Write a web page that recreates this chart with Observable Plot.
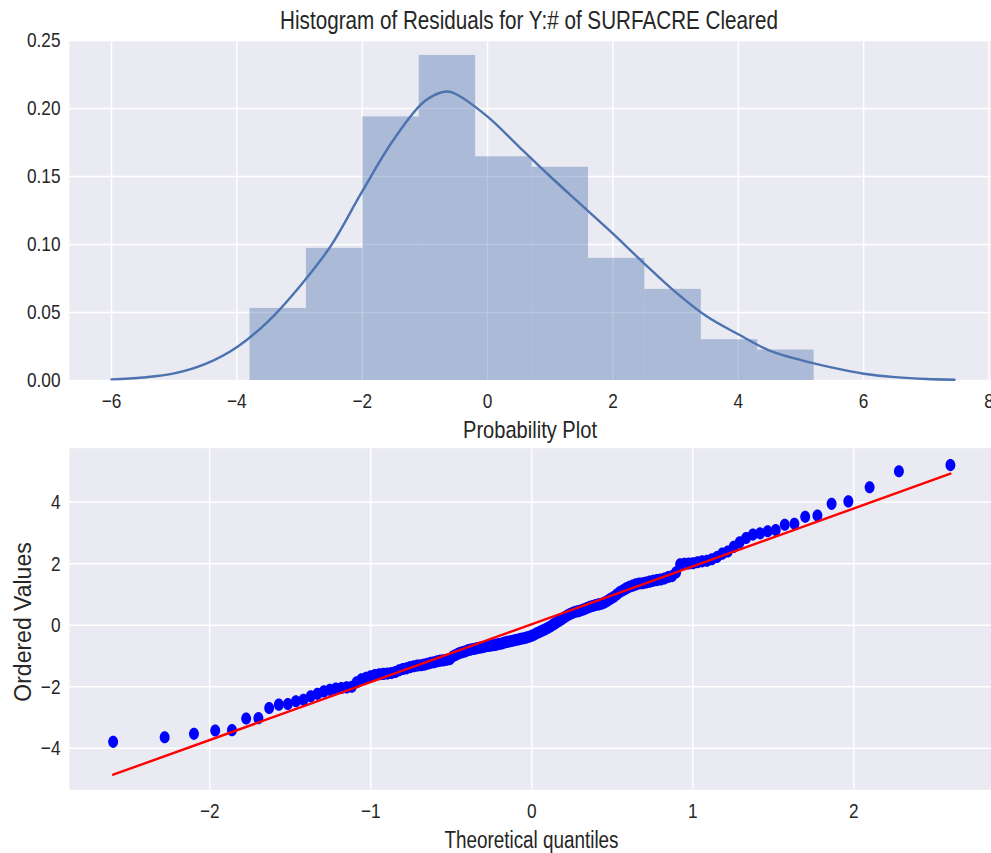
<!DOCTYPE html>
<html>
<head>
<meta charset="utf-8">
<script src="https://cdn.jsdelivr.net/npm/d3@7"></script>
<script src="https://cdn.jsdelivr.net/npm/@observablehq/plot@0.6"></script>
<style>
  body { margin: 0; background: #fff; }
  #fig { position: relative; width: 991px; height: 853px; overflow: hidden;
         font-family: "Liberation Sans", Arial, sans-serif; color: #262626; }
  .panel { position: absolute; left: 0; }
  .lbl { position: absolute; white-space: nowrap; line-height: 1; }
  .narrow { transform: scaleX(0.82); transform-origin: center; }
</style>
</head>
<body>
<div id="fig">
  <div class="panel" id="hist" style="top:0"></div>
  <div class="panel" id="qq" style="top:420px"></div>
  <div class="lbl narrow" style="left:0;width:1058px;text-align:center;top:7.5px;font-size:25.2px">Histogram of Residuals for Y:# of SURFACRE Cleared</div>
  <div class="lbl narrow" style="left:0;width:1060px;text-align:center;top:417.5px;font-size:24.5px">Probability Plot</div>
  <div class="lbl narrow" style="left:0;width:1063px;text-align:center;top:828.5px;font-size:23px">Theoretical quantiles</div>
  <div class="lbl" style="left:23px;top:621.5px;font-size:23px;transform:translate(-50%,-50%) rotate(-90deg)">Ordered Values</div>
</div>
<script>
// Residual histogram: bin edges and density heights
const binEdges = [-3.79, -2.89, -1.99, -1.09, -0.19, 0.71, 1.61, 2.51, 3.41, 4.31, 5.21];
const binDensity = [0.0530, 0.0972, 0.1938, 0.2390, 0.1645, 0.1568, 0.0898, 0.0670, 0.0300, 0.0224];

// Kernel density estimate curve (x, density)
const kdeX = [-6.0, -5.5, -5.0, -4.5, -4.0, -3.5, -3.0, -2.5, -2.0, -1.5, -1.0, -0.65, -0.5, 0.0,
              0.5, 1.0, 1.5, 2.0, 2.5, 3.0, 3.5, 4.0, 4.5, 5.0, 5.5, 6.0, 6.5, 7.0, 7.45];
const kdeDensity = [0.0008, 0.0022, 0.0052, 0.0122, 0.0245, 0.0435, 0.069, 0.099, 0.139, 0.177, 0.2055, 0.2125, 0.2105, 0.194,
                    0.172, 0.150, 0.129, 0.108, 0.086, 0.065, 0.047, 0.034, 0.022, 0.015, 0.0095, 0.005, 0.0025, 0.0011, 0.0006];

// Probability plot: theoretical normal quantiles and ordered residuals (n = 149)
const theoreticalQuantiles = [
  -2.60, -2.28, -2.098, -1.966, -1.862, -1.774, -1.698, -1.631, -1.571, -1.515,
  -1.465, -1.418, -1.373, -1.331, -1.291, -1.254, -1.217, -1.183, -1.150, -1.118,
  -1.088, -1.0584, -1.0294, -1.0012, -0.9740, -0.9473, -0.9213, -0.8961, -0.8714, -0.8472,
  -0.8236, -0.8003, -0.7773, -0.7547, -0.7324, -0.7105, -0.6890, -0.6679, -0.6470, -0.6265,
  -0.6063, -0.5862, -0.5664, -0.5468, -0.5274, -0.5081, -0.4891, -0.4703, -0.4516, -0.4331,
  -0.4148, -0.3966, -0.3785, -0.3605, -0.3426, -0.3248, -0.3070, -0.2895, -0.2720, -0.2547,
  -0.2376, -0.2205, -0.2032, -0.1860, -0.1688, -0.1518, -0.1348, -0.1178, -0.1009, -0.0840,
  -0.0672, -0.0504, -0.0336, -0.0168, 0,
  0.0168, 0.0336, 0.0504, 0.0672, 0.0840, 0.1009, 0.1178, 0.1348, 0.1518, 0.1688,
  0.1860, 0.2032, 0.2205, 0.2376, 0.2547, 0.2720, 0.2895, 0.3070, 0.3248, 0.3426,
  0.3605, 0.3785, 0.3966, 0.4148, 0.4331, 0.4516, 0.4703, 0.4891, 0.5081, 0.5274,
  0.5468, 0.5664, 0.5862, 0.6063, 0.6265, 0.6470, 0.6679, 0.6890, 0.7105, 0.7324,
  0.7547, 0.7773, 0.8003, 0.8236, 0.8472, 0.8714, 0.8961, 0.9213, 0.9473, 0.9740,
  1.0012, 1.0294, 1.0584, 1.088, 1.118, 1.150, 1.183, 1.217, 1.254, 1.291,
  1.331, 1.373, 1.418, 1.465, 1.515, 1.571, 1.631, 1.698, 1.774, 1.862,
  1.966, 2.098, 2.28, 2.60
];
const orderedValues = [
  -3.79, -3.64, -3.53, -3.42, -3.41, -3.03, -3.02,
  -2.69, -2.58, -2.56, -2.47, -2.42, -2.31, -2.23, -2.15, -2.10, -2.06, -2.04, -2.02, -2.00,
  -1.85, -1.76, -1.71, -1.66, -1.62, -1.59, -1.58, -1.57, -1.55, -1.52, -1.46, -1.42, -1.40,
  -1.36, -1.33, -1.31, -1.30, -1.28, -1.25, -1.22, -1.20, -1.17, -1.15, -1.14, -1.12, -1.10,
  -1.01, -0.96, -0.91, -0.88, -0.85, -0.81, -0.79, -0.77, -0.75, -0.73, -0.71, -0.69, -0.67,
  -0.66, -0.65, -0.63, -0.61, -0.59, -0.56, -0.54, -0.52, -0.50, -0.48, -0.46, -0.44, -0.42,
  -0.40, -0.37, -0.34, -0.30, -0.25, -0.21,
  -0.17, -0.13, -0.08, -0.03, 0.03, 0.08, 0.14, 0.20, 0.26, 0.32, 0.37, 0.41, 0.44, 0.46,
  0.49, 0.52, 0.56, 0.60, 0.63, 0.66, 0.68, 0.70,
  0.74, 0.80, 0.86, 0.92, 1.00, 1.08, 1.14, 1.20, 1.25, 1.29, 1.33, 1.36, 1.37, 1.39, 1.42,
  1.45, 1.47, 1.49, 1.52, 1.57, 1.60,
  1.72, 1.98, 2.00, 2.01, 2.02, 2.05, 2.08, 2.10, 2.15, 2.22, 2.33, 2.40,
  2.55, 2.70, 2.84, 2.95, 2.99, 3.06, 3.10, 3.27, 3.30,
  3.53, 3.57, 3.95, 4.03,
  4.49, 5.01, 5.21
];
// Least-squares fit line end points (theoretical quantile, value)
const fitQuantiles = [-2.60, 2.60];
const fitValues = [-4.86, 4.93];

// Tick values
const histXTicks = [-6, -4, -2, 0, 2, 4, 6, 8];
const histYTicks = [0, 0.05, 0.10, 0.15, 0.20, 0.25];
const qqXTicks = [-2, -1, 0, 1, 2];
const qqYTicks = [-4, -2, 0, 2, 4];

const BG = "#EAEAF2", BLUE = "#4C72B0";
const baseStyle = {fontFamily: "'Liberation Sans', Arial, sans-serif", fontSize: "21px", color: "#262626",
                   background: "transparent", overflow: "visible"};

const bins = binDensity.map((d, i) => ({x1: binEdges[i], x2: binEdges[i + 1], density: d}));
const kde = kdeX.map((x, i) => ({x, density: kdeDensity[i]}));
const qq = theoreticalQuantiles.map((q, i) => ({q, value: orderedValues[i]}));
const fit = fitQuantiles.map((q, i) => ({q, value: fitValues[i]}));

const grid = {stroke: "white", strokeOpacity: 1, strokeWidth: 1.4};
const intFormat = d3.format("d");

// condense tick labels horizontally around their anchor point
function condenseTicks(svg) {
  svg.querySelectorAll('g[aria-label$="tick label"] text').forEach(t => {
    t.setAttribute("transform", (t.getAttribute("transform") || "") + " scale(0.82,1)");
  });
  return svg;
}

const hist = Plot.plot({
  width: 991, height: 420,
  marginLeft: 69, marginRight: 0, marginTop: 40, marginBottom: 40,
  style: baseStyle,
  x: {domain: [-6.67, 8.04]},
  y: {domain: [0, 0.25]},
  marks: [
    Plot.frame({fill: BG}),
    Plot.gridX(histXTicks, grid),
    Plot.gridY(histYTicks, grid),
    Plot.rectY(bins, {x1: "x1", x2: "x2", y: "density", fill: BLUE, fillOpacity: 0.4, inset: 0}),
    Plot.line(kde, {x: "x", y: "density", stroke: BLUE, strokeWidth: 2.4, curve: "catmull-rom"}),
    Plot.axisX(histXTicks, {tickSize: 0, tickPadding: 13, tickFormat: intFormat, label: null}),
    Plot.axisY(histYTicks, {tickSize: 0, tickPadding: 9, tickFormat: d3.format(".2f"), label: null})
  ]
});
document.getElementById("hist").append(condenseTicks(hist));

// slightly tall oval marker
const oval = {
  draw(ctx, size) {
    const r = Math.sqrt(size / Math.PI), rx = r * 0.9, ry = r * 1.1, k = 0.5523;
    ctx.moveTo(rx, 0);
    ctx.bezierCurveTo(rx, ry * k, rx * k, ry, 0, ry);
    ctx.bezierCurveTo(-rx * k, ry, -rx, ry * k, -rx, 0);
    ctx.bezierCurveTo(-rx, -ry * k, -rx * k, -ry, 0, -ry);
    ctx.bezierCurveTo(rx * k, -ry, rx, -ry * k, rx, 0);
    ctx.closePath();
  }
};

const qqPlot = Plot.plot({
  width: 991, height: 433,
  marginLeft: 69, marginRight: 0, marginTop: 27.7, marginBottom: 63.7,
  style: baseStyle,
  x: {domain: [-2.871, 2.855]},
  y: {domain: [-5.35, 5.76]},
  marks: [
    Plot.frame({fill: BG}),
    Plot.gridX(qqXTicks, grid),
    Plot.gridY(qqYTicks, grid),
    Plot.dot(qq, {x: "q", y: "value", r: 5.5, symbol: oval, fill: "#0000FF", stroke: null}),
    Plot.line(fit, {x: "q", y: "value", stroke: "#FF0000", strokeWidth: 2.4}),
    Plot.axisX(qqXTicks, {tickSize: 0, tickPadding: 13, tickFormat: intFormat, label: null}),
    Plot.axisY(qqYTicks, {tickSize: 0, tickPadding: 9, tickFormat: intFormat, label: null})
  ]
});
document.getElementById("qq").append(condenseTicks(qqPlot));
</script>
</body>
</html>
